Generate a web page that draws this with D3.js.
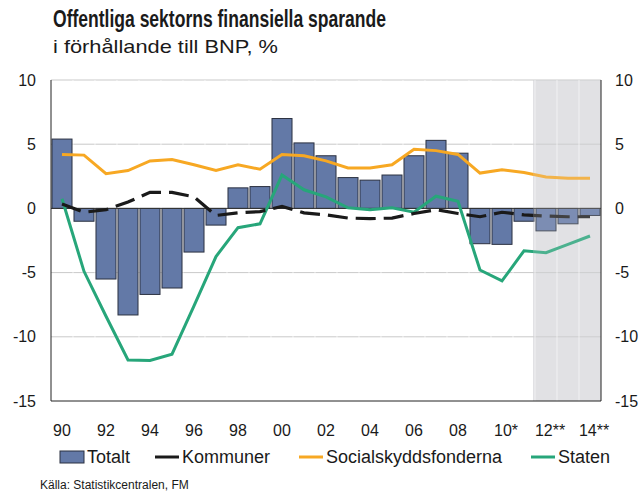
<!DOCTYPE html>
<html>
<head>
<meta charset="utf-8">
<script src="https://cdn.jsdelivr.net/npm/d3@7"></script>
<style>
  body { margin: 0; background: #fff; }
  text { font-family: "Liberation Sans", Arial, sans-serif; fill: #1a1a1a; }
</style>
</head>
<body>
<script>
// data (% of GDP)
var years = d3.range(1990, 2015);
var totalt = [5.4, -1.0, -5.5, -8.3, -6.7, -6.2, -3.4, -1.3, 1.6, 1.7, 7.0, 5.1, 4.1, 2.4, 2.2, 2.6, 4.1, 5.3, 4.3, -2.75, -2.8, -1.0, -1.75, -1.2, -0.55];
var kommuner = [0.35, -0.3, -0.1, 0.5, 1.25, 1.25, 0.9, -0.55, -0.35, -0.25, 0.15, -0.35, -0.5, -0.75, -0.8, -0.75, -0.4, -0.1, -0.4, -0.65, -0.3, -0.5, -0.6, -0.65, -0.65];
var social = [4.2, 4.15, 2.7, 2.95, 3.7, 3.8, 3.4, 2.95, 3.4, 3.05, 4.2, 4.1, 3.7, 3.15, 3.15, 3.4, 4.6, 4.5, 4.2, 2.75, 3.0, 2.8, 2.45, 2.35, 2.35];
var staten = [0.75, -4.9, -8.4, -11.8, -11.85, -11.35, -7.6, -3.75, -1.5, -1.2, 2.6, 1.45, 0.9, 0.05, -0.1, 0.05, -0.3, 0.95, 0.55, -4.8, -5.65, -3.3, -3.45, -2.8, -2.15];
var yTicks = [10, 5, 0, -5, -10, -15];
var xLabels = {1990: "90", 1992: "92", 1994: "94", 1996: "96", 1998: "98", 2000: "00", 2002: "02", 2004: "04", 2006: "06", 2008: "08", 2010: "10*", 2012: "12**", 2014: "14**"};
var forecastStart = 2012;

var W = 642, H = 494;
var plot = {left: 51, right: 601, top: 80, bottom: 401};

var colors = {bar: '#6379a7', barStroke: '#2b3140', kommuner: '#1a1a1a', social: '#f7a823', staten: '#27a67a', shade: '#e1e2e4', grid: '#c9c9c9'};

var svg = d3.select('body')
    .append('svg')
    .attr('width', W)
    .attr('height', H);

var x = d3.scaleBand()
    .domain(years)
    .range([plot.left, plot.right])
    .paddingInner(0.09)
    .paddingOuter(0.045);

var y = d3.scaleLinear()
    .domain([-15, 10])
    .range([plot.bottom, plot.top]);

var step = x.step();
var xc = function (yr) { return x(yr) + x.bandwidth() / 2; };

//title
svg.append('text')
    .attr('x', 53)
    .attr('y', 27)
    .text('Offentliga sektorns finansiella sparande')
    .style('font-size', '24px')
    .style('font-weight', 'bold')
    .attr('textLength', 333)
    .attr('lengthAdjust', 'spacingAndGlyphs');

svg.append('text')
    .attr('x', 53)
    .attr('y', 53)
    .text('i förhållande till BNP, %')
    .style('font-size', '19px')
    .attr('textLength', 225)
    .attr('lengthAdjust', 'spacingAndGlyphs');

//forecast shade (background)
var shadeX = x(forecastStart) - 3;
svg.append('rect')
    .attr('x', shadeX)
    .attr('y', plot.top)
    .attr('width', plot.right - shadeX)
    .attr('height', plot.bottom - plot.top)
    .style('fill', colors.shade);

//gridlines
svg.append('g')
    .selectAll('line')
    .data(yTicks.filter(function (d) { return d !== 0 && d !== -15; }))
    .enter()
    .append('line')
    .attr('x1', plot.left)
    .attr('x2', plot.right)
    .attr('y1', function (d) { return y(d); })
    .attr('y2', function (d) { return y(d); })
    .style('stroke', colors.grid)
    .style('stroke-width', 1);

//white separators between years
svg.append('g')
    .selectAll('line')
    .data(years.slice(1))
    .enter()
    .append('line')
    .attr('x1', function (d) { return x(d) - step * 0.045; })
    .attr('x2', function (d) { return x(d) - step * 0.045; })
    .attr('y1', plot.top)
    .attr('y2', plot.bottom)
    .style('stroke', '#fff')
    .style('stroke-opacity', 0.6)
    .style('stroke-width', 1.2);

//bars
svg.append('g')
    .selectAll('rect')
    .data(years)
    .enter()
    .append('rect')
    .attr('x', function (d) { return x(d); })
    .attr('width', x.bandwidth())
    .attr('y', function (d, i) { return y(Math.max(0, totalt[i])); })
    .attr('height', function (d, i) { return Math.abs(y(totalt[i]) - y(0)); })
    .style('fill', colors.bar)
    .style('stroke', colors.barStroke)
    .style('stroke-width', 1);

//zero line
svg.append('line')
    .attr('x1', plot.left)
    .attr('x2', plot.right)
    .attr('y1', y(0))
    .attr('y2', y(0))
    .style('stroke', '#333')
    .style('stroke-width', 1);

//lines
var line = function (vals) {
    return d3.line()
        .x(function (d) { return xc(d); })
        .y(function (d, i) { return y(vals[i]); })(years);
};

svg.append('path')
    .attr('d', line(social))
    .style('fill', 'none')
    .style('stroke', colors.social)
    .style('stroke-width', 3);

svg.append('path')
    .attr('d', line(staten))
    .style('fill', 'none')
    .style('stroke', colors.staten)
    .style('stroke-width', 3);

svg.append('path')
    .attr('d', line(kommuner))
    .style('fill', 'none')
    .style('stroke', colors.kommuner)
    .style('stroke-width', 3.2)
    .style('stroke-dasharray', '20,8');

//shade overlay, washes out the forecast years
svg.append('rect')
    .attr('x', shadeX)
    .attr('y', plot.top)
    .attr('width', plot.right - shadeX)
    .attr('height', plot.bottom - plot.top)
    .style('fill', colors.shade)
    .style('opacity', 0.2);

//axes frame
svg.append('path')
    .attr('d', 'M' + plot.left + ',' + plot.top + 'V' + plot.bottom + 'H' + plot.right + 'V' + plot.top)
    .style('fill', 'none')
    .style('stroke', '#222')
    .style('stroke-width', 1);

//y tick labels, both sides
svg.append('g')
    .selectAll('text')
    .data(yTicks)
    .enter()
    .append('text')
    .attr('x', 36)
    .attr('y', function (d) { return y(d); })
    .attr('dy', '0.35em')
    .attr('text-anchor', 'end')
    .text(function (d) { return d; })
    .style('font-size', '16px');

svg.append('g')
    .selectAll('text')
    .data(yTicks)
    .enter()
    .append('text')
    .attr('x', 615)
    .attr('y', function (d) { return y(d); })
    .attr('dy', '0.35em')
    .text(function (d) { return d; })
    .style('font-size', '16px');

//x labels
svg.append('g')
    .selectAll('text')
    .data(years.filter(function (d) { return xLabels[d]; }))
    .enter()
    .append('text')
    .attr('x', function (d) { return xc(d) + (xLabels[d].length > 2 ? 4 : 0); })
    .attr('y', 436)
    .attr('text-anchor', 'middle')
    .text(function (d) { return xLabels[d]; })
    .style('font-size', '16px');

//legend
var legend = [
    {name: 'Totalt', type: 'bar', x: 60},
    {name: 'Kommuner', type: 'line', color: colors.kommuner, x: 155},
    {name: 'Socialskyddsfonderna', type: 'line', color: colors.social, x: 299},
    {name: 'Staten', type: 'line', color: colors.staten, x: 531}
];
var legendY = 457;

legend.forEach(function (d) {
    if (d.type === 'bar') {
        svg.append('rect')
            .attr('x', d.x)
            .attr('y', legendY - 6)
            .attr('width', 24)
            .attr('height', 12)
            .style('fill', colors.bar)
            .style('stroke', colors.barStroke);
    } else {
        svg.append('line')
            .attr('x1', d.x)
            .attr('x2', d.x + 24)
            .attr('y1', legendY)
            .attr('y2', legendY)
            .style('stroke', d.color)
            .style('stroke-width', 3);
    }
    svg.append('text')
        .attr('x', d.x + 27)
        .attr('y', legendY)
        .attr('dy', '0.36em')
        .text(d.name)
        .style('font-size', '18px');
});

//source
svg.append('text')
    .attr('x', 40)
    .attr('y', 489)
    .text('Källa: Statistikcentralen, FM')
    .style('font-size', '12px');
</script>
</body>
</html>
